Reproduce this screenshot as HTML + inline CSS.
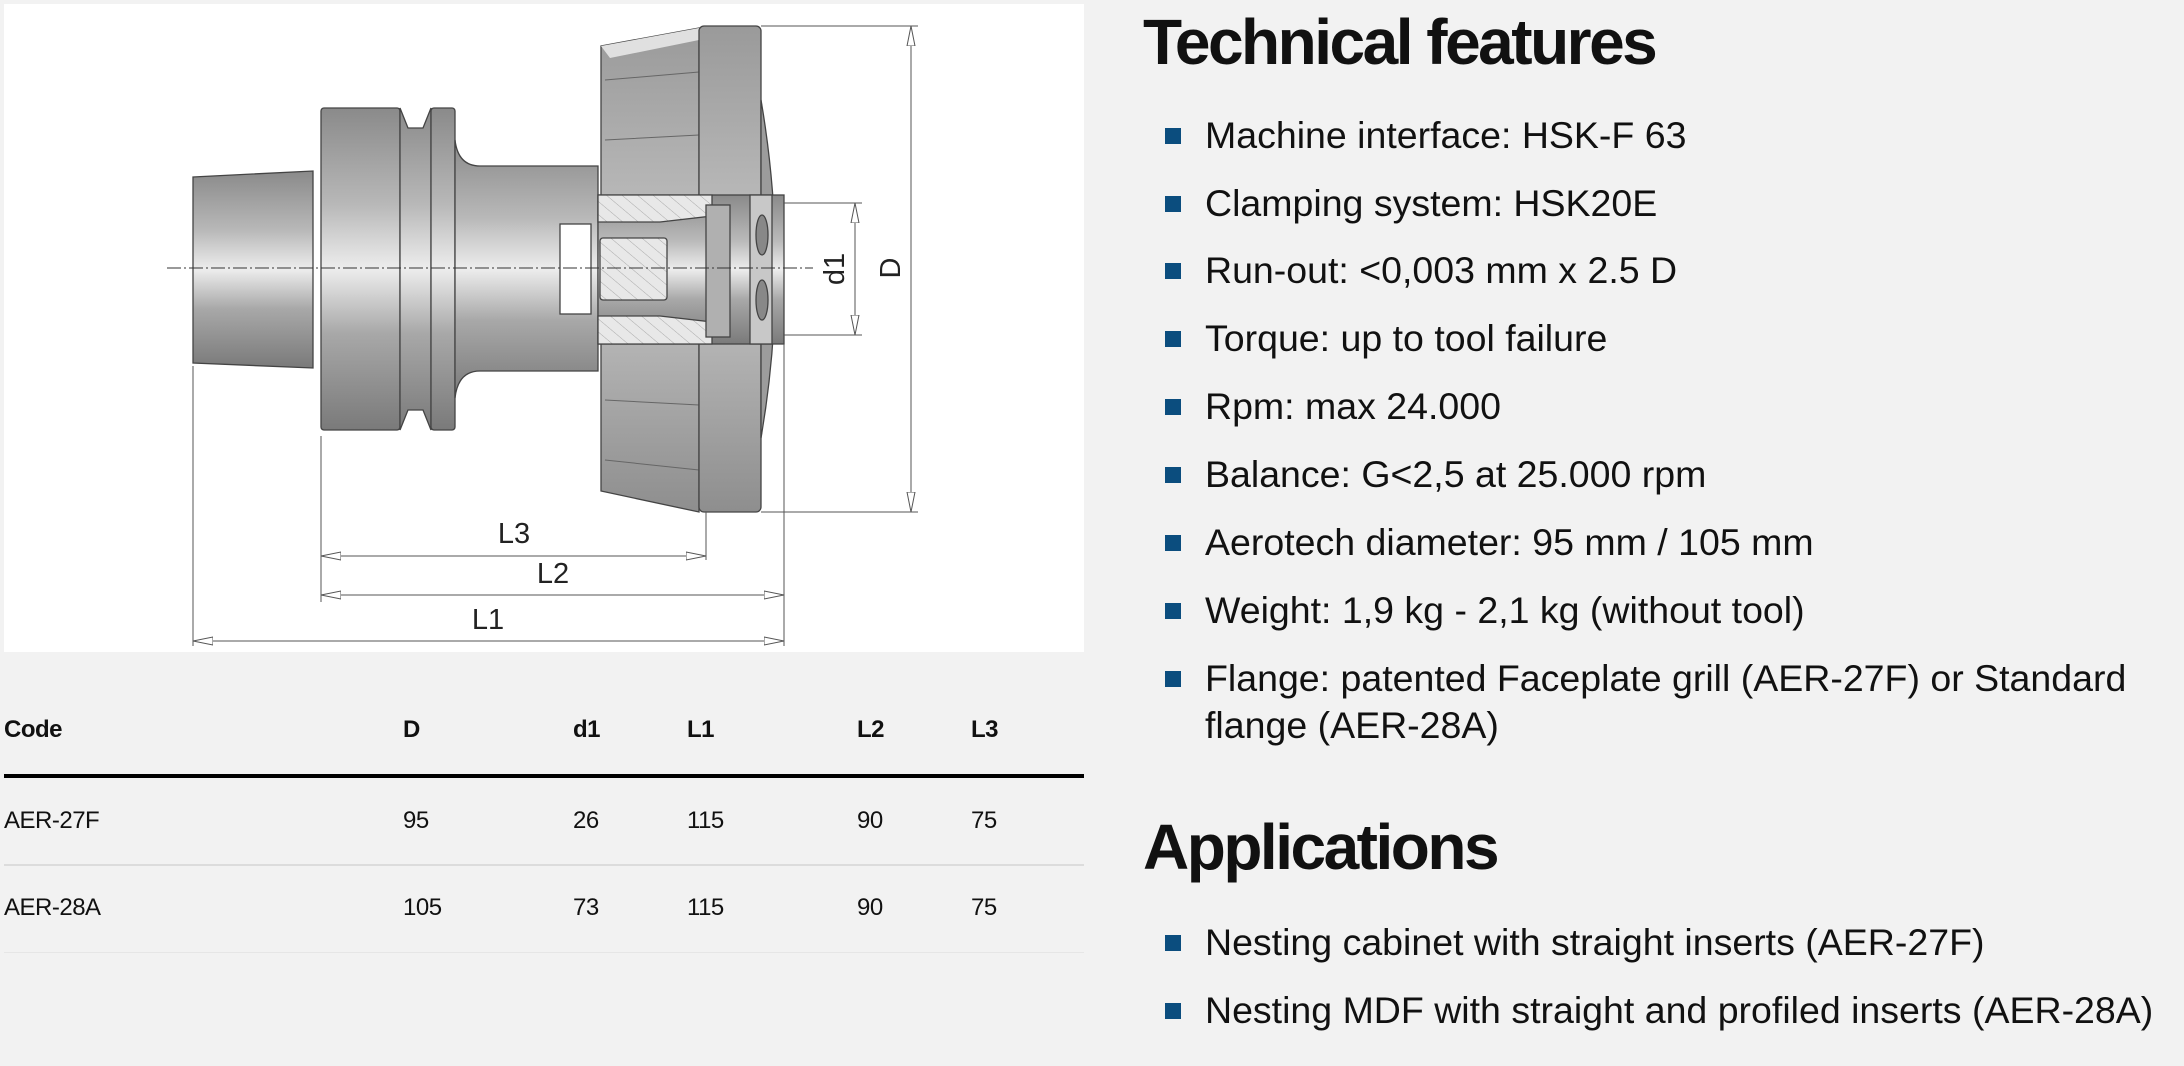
<!DOCTYPE html>
<html><head><meta charset="utf-8"><style>
html,body{margin:0;padding:0;}
body{width:2184px;height:1066px;background:#f2f2f2;position:relative;overflow:hidden;font-family:"Liberation Sans",sans-serif;color:#111;}
.box{position:absolute;left:4px;top:4px;width:1080px;height:648px;background:#fff;}
h2{position:absolute;margin:0;font-weight:bold;font-size:64px;letter-spacing:-2.5px;left:1143px;line-height:1;}
.li{position:absolute;left:1205px;font-size:37.5px;letter-spacing:0;line-height:47px;}
.li:before{content:"";position:absolute;left:-40px;top:16px;width:16px;height:16px;background:#0b4d7e;}
.t{position:absolute;font-size:24px;letter-spacing:-0.5px;}
.b{font-weight:bold;}
</style></head><body>
<div class="box"></div>
<svg style="position:absolute;left:0;top:0" width="1090" height="660" viewBox="0 0 1090 660">
<defs>
<linearGradient id="m" x1="0" y1="0" x2="0" y2="1">
<stop offset="0" stop-color="#8a8a8a"/><stop offset="0.3" stop-color="#b8b8b8"/><stop offset="0.5" stop-color="#ededed"/><stop offset="0.7" stop-color="#a8a8a8"/><stop offset="1" stop-color="#7a7a7a"/></linearGradient>
<linearGradient id="h" x1="0" y1="0" x2="0" y2="1">
<stop offset="0" stop-color="#9a9a9a"/><stop offset="0.5" stop-color="#c4c4c4"/><stop offset="1" stop-color="#8e8e8e"/></linearGradient>
<pattern id="hat" width="10" height="10" patternUnits="userSpaceOnUse" patternTransform="rotate(-50)">
<rect width="10" height="10" fill="#e8e8e8"/><line x1="0" y1="0" x2="0" y2="10" stroke="#aaa" stroke-width="1"/></pattern>
<marker id="ar" viewBox="0 0 20 10" refX="20" refY="5" markerWidth="20" markerHeight="10" orient="auto-start-reverse" markerUnits="userSpaceOnUse"><path d="M0,1 L20,5 L0,9 Z" fill="#fff" stroke="#555" stroke-width="1"/></marker>
</defs>
<g stroke="#444" stroke-width="1.3">
<path d="M193,177 L313,171 L313,368 L193,363 Z" fill="url(#m)"/>
<rect x="321" y="108" width="79" height="322" rx="3" fill="url(#m)"/>
<path d="M400,108 L408,128 L423,128 L431,108 L431,430 L423,410 L408,410 L400,430 Z" fill="url(#m)"/>
<rect x="431" y="108" width="24" height="322" rx="3" fill="url(#m)"/>
<path d="M455,140 Q458,166 480,166 L598,166 L598,371 L480,371 Q458,371 455,398 Z" fill="url(#m)"/>
<path d="M601,46 L699,28 L699,512 L601,491 Z" fill="url(#h)"/>
<path d="M601,46 L699,28 L699,40 L610,58 Z" fill="#e0e0e0" stroke="none"/>
<path d="M605,80 L699,72 M605,140 L699,135 M605,400 L699,405 M605,460 L699,470" stroke="#666" stroke-width="1" fill="none"/>
<rect x="699" y="26" width="62" height="486" rx="5" fill="url(#h)"/>
<path d="M761,100 Q790,269 761,438 Z" fill="#9c9c9c"/>
<rect x="598" y="195" width="186" height="149" fill="url(#m)"/>
<path d="M598,195 L712,195 L712,216 L660,222 L598,222 Z" fill="url(#hat)"/>
<path d="M598,316 L660,316 L712,322 L712,344 L598,344 Z" fill="url(#hat)"/>
<rect x="706" y="205" width="24" height="132" fill="#b0b0b0"/>
<rect x="750" y="195" width="22" height="149" fill="#c8c8c8"/>
<ellipse cx="762" cy="235" rx="6" ry="20" fill="#888"/>
<ellipse cx="762" cy="300" rx="6" ry="20" fill="#888"/>
<rect x="560" y="224" width="31" height="90" fill="#fff"/>
<rect x="600" y="238" width="67" height="62" rx="3" fill="url(#hat)"/>
</g>
<line x1="167" y1="268" x2="813" y2="268" stroke="#333" stroke-width="1" stroke-dasharray="14,3,2,3"/>
<g stroke="#555" stroke-width="1" fill="none">
<line x1="761" y1="26" x2="918" y2="26"/><line x1="761" y1="512" x2="918" y2="512"/>
<line x1="784" y1="203" x2="862" y2="203"/><line x1="784" y1="335" x2="862" y2="335"/>
<line x1="911" y1="26" x2="911" y2="512" marker-start="url(#ar)" marker-end="url(#ar)"/>
<line x1="855" y1="203" x2="855" y2="335" marker-start="url(#ar)" marker-end="url(#ar)"/>
<line x1="193" y1="366" x2="193" y2="646"/>
<line x1="321" y1="436" x2="321" y2="602"/>
<line x1="706" y1="512" x2="706" y2="560"/>
<line x1="784" y1="344" x2="784" y2="646"/>
<line x1="321" y1="556" x2="706" y2="556" marker-start="url(#ar)" marker-end="url(#ar)"/>
<line x1="321" y1="595" x2="784" y2="595" marker-start="url(#ar)" marker-end="url(#ar)"/>
<line x1="193" y1="641" x2="784" y2="641" marker-start="url(#ar)" marker-end="url(#ar)"/>
</g>
<g font-family="Liberation Sans, sans-serif" font-size="29" fill="#222" text-anchor="middle">
<text x="514" y="543">L3</text>
<text x="553" y="583">L2</text>
<text x="488" y="629">L1</text>
<text transform="translate(900,268) rotate(-90)">D</text>
<text transform="translate(844,269) rotate(-90)">d1</text>
</g>
</svg>

<h2 style="top:10px">Technical features</h2>
<div class="li" style="top:112px">Machine interface: HSK-F 63</div>
<div class="li" style="top:180px">Clamping system: HSK20E</div>
<div class="li" style="top:247px">Run-out: &lt;0,003 mm x 2.5 D</div>
<div class="li" style="top:315px">Torque: up to tool failure</div>
<div class="li" style="top:383px">Rpm: max 24.000</div>
<div class="li" style="top:451px">Balance: G&lt;2,5 at 25.000 rpm</div>
<div class="li" style="top:519px">Aerotech diameter: 95 mm / 105 mm</div>
<div class="li" style="top:587px">Weight: 1,9 kg - 2,1 kg (without tool)</div>
<div class="li" style="top:655px;width:960px">Flange: patented Faceplate grill (AER-27F) or Standard flange (AER-28A)</div>
<h2 style="top:815px">Applications</h2>
<div class="li" style="top:919px">Nesting cabinet with straight inserts (AER-27F)</div>
<div class="li" style="top:987px">Nesting MDF with straight and profiled inserts (AER-28A)</div>

<div class="t b" style="left:4px;top:716px">Code</div>
<div class="t b" style="left:403px;top:716px">D</div>
<div class="t b" style="left:573px;top:716px">d1</div>
<div class="t b" style="left:687px;top:716px">L1</div>
<div class="t b" style="left:857px;top:716px">L2</div>
<div class="t b" style="left:971px;top:716px">L3</div>
<div style="position:absolute;left:4px;top:774px;width:1080px;height:4px;background:#000"></div>
<div class="t" style="left:4px;top:807px">AER-27F</div>
<div class="t" style="left:403px;top:807px">95</div>
<div class="t" style="left:573px;top:807px">26</div>
<div class="t" style="left:687px;top:807px">115</div>
<div class="t" style="left:857px;top:807px">90</div>
<div class="t" style="left:971px;top:807px">75</div>
<div style="position:absolute;left:4px;top:864px;width:1080px;height:2px;background:#dcdcdc"></div>
<div class="t" style="left:4px;top:894px">AER-28A</div>
<div class="t" style="left:403px;top:894px">105</div>
<div class="t" style="left:573px;top:894px">73</div>
<div class="t" style="left:687px;top:894px">115</div>
<div class="t" style="left:857px;top:894px">90</div>
<div class="t" style="left:971px;top:894px">75</div>
<div style="position:absolute;left:4px;top:952px;width:1080px;height:1px;background:#e6e6e6"></div>
</body></html>
